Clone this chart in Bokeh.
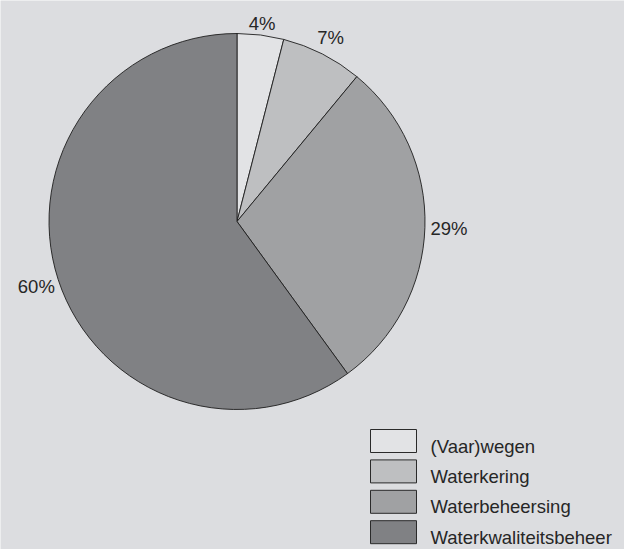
import numpy as np
from bokeh.plotting import figure
from bokeh.models import Range1d, ColumnDataSource
from bokeh.core.properties import value
from bokeh.embed import file_html
from bokeh.resources import INLINE

categories = ["(Vaar)wegen", "Waterkering", "Waterbeheersing", "Waterkwaliteitsbeheer"]
shares = [4, 7, 29, 60]
labels = ["4%", "7%", "29%", "60%"]
colors = ["#e2e3e5", "#bebfc1", "#a0a1a3", "#808184"]

W, H = 624, 549
BG = "#dcdde0"
FONT = "Liberation Sans"
TXT = "#262626"

p = figure(width=W, height=H, output_backend="svg", toolbar_location=None,
           x_range=Range1d(0, W), y_range=Range1d(0, H),
           min_border=0, outline_line_color=None,
           background_fill_color=BG, border_fill_color=BG)
p.axis.visible = False
p.grid.visible = False

cx, cy, r = 236.5, H - 221, 188
vals = np.array(shares, dtype=float)
frac = vals / vals.sum()
cum_end = np.cumsum(frac)
cum_start = cum_end - frac
start = np.pi / 2 - 2 * np.pi * cum_start
end = np.pi / 2 - 2 * np.pi * cum_end
mid = (start + end) / 2

src = ColumnDataSource(dict(start=start, end=end, color=colors, cat=categories))
p.wedge(x=cx, y=cy, radius=r, start_angle="start", end_angle="end",
        direction="clock", fill_color="color", line_color="#1e1e1e",
        line_width=0.9, source=src)

lr = np.array([200, 206, 212, 211])
lx = cx + lr * np.cos(mid)
ly = cy + lr * np.sin(mid)
p.text(x=lx, y=ly, text=labels, text_font=value(FONT), text_font_size="18.5px",
       text_color=TXT, text_align="center", text_baseline="middle")

# legend
n = len(categories)
bx = 393
step = 30.4
by = H - (440.5 + step * np.arange(n))
p.rect(x=bx, y=by, width=46, height=23, fill_color=colors,
       line_color="#2a2a2a", line_width=1)
p.text(x=bx + 37, y=by - 5, text=categories, text_font=value(FONT),
       text_font_size="18.5px", text_color=TXT, text_align="left",
       text_baseline="middle")

open("out.html", "w").write(file_html(p, INLINE))
